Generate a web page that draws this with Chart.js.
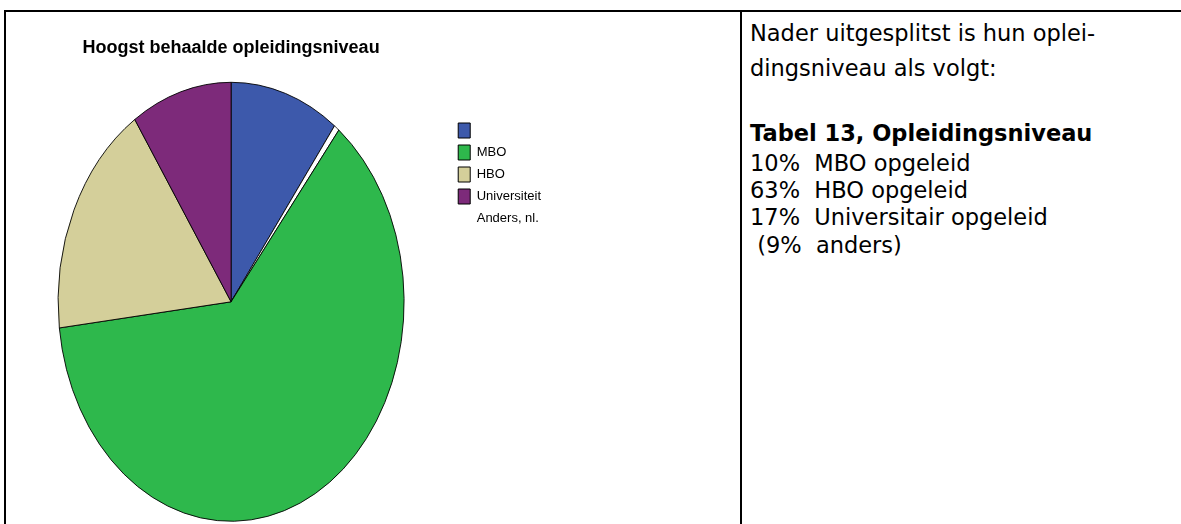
<!DOCTYPE html>
<html>
<head>
<meta charset="utf-8">
<script src="https://cdn.jsdelivr.net/npm/chart.js@4.4.1/dist/chart.umd.min.js"></script>
<style>
  html, body { margin: 0; padding: 0; background: #fff; }
  body { width: 1181px; height: 524px; position: relative; overflow: hidden; }
  #chartBox { position: absolute; left: 0; top: 0; width: 740px; height: 524px; }
  .rule { position: absolute; background: #000; }
  .line { position: absolute; left: 750px; white-space: pre; line-height: 28px;
          font-family: Tahoma, "DejaVu Sans", sans-serif; font-size: 22.5px; color: #000; }
  .bold { font-weight: bold; }
</style>
</head>
<body>
<div id="chartBox"><canvas id="pie" width="740" height="524"></canvas></div>

<div class="rule" style="left:4px;top:10px;width:1177px;height:2px"></div>
<div class="rule" style="left:4px;top:10px;width:2px;height:514px"></div>
<div class="rule" style="left:740px;top:10px;width:2px;height:514px"></div>

<div class="line" style="top:19px">Nader uitgesplitst is hun oplei-</div>
<div class="line" style="top:54px">dingsniveau als volgt:</div>
<div class="line bold" style="top:119px">Tabel 13, Opleidingsniveau</div>
<div class="line" style="top:149px">10%  MBO opgeleid</div>
<div class="line" style="top:176px">63%  HBO opgeleid</div>
<div class="line" style="top:203px">17%  Universitair opgeleid</div>
<div class="line" style="top:231px"> (9%  anders)</div>

<script>
// slices in drawing order (clockwise from 12 o'clock)
const categories = ["", "Anders, nl.", "MBO", "HBO", "Universiteit"];
const shares = [10.2, 0.5, 62.4, 17.5, 9.4];
const sliceColors = ["#3d59ab", "#ffffff", "#2eb84c", "#d4cf9a", "#7d2a7a"];
// order the legend lists them in
const legendOrder = ["", "MBO", "HBO", "Universiteit", "Anders, nl."];

const chartTitle = "Hoogst behaalde opleidingsniveau";

// pie is drawn as a circle of radius ry, then squashed sideways to rx
const rx = 173, ry = 219.5;

const squash = {
  id: "squash",
  beforeDatasetsDraw(chart) {
    const arc = chart.getDatasetMeta(0).data[0];
    const ctx = chart.ctx;
    ctx.save();
    ctx.translate(arc.x, arc.y);
    ctx.scale(rx / ry, 1);
    ctx.translate(-arc.x, -arc.y);
  },
  afterDatasetsDraw(chart) {
    chart.ctx.restore();
  }
};

const baseLabels = Chart.overrides.pie.plugins.legend.labels.generateLabels;

new Chart(document.getElementById("pie"), {
  type: "pie",
  data: {
    labels: categories,
    datasets: [{
      data: shares,
      backgroundColor: sliceColors,
      borderColor: "#000",
      borderWidth: 1
    }]
  },
  options: {
    responsive: false,
    animation: false,
    radius: ry,
    layout: { padding: { left: 11, right: 189, top: 0, bottom: 0 } },
    plugins: {
      tooltip: { enabled: false },
      title: {
        display: true,
        fullSize: false,
        text: chartTitle,
        color: "#000",
        font: { family: "'Liberation Sans', Arial, sans-serif", size: 18, weight: "bold" },
        padding: { top: 37, bottom: 21 }
      },
      legend: {
        position: "right",
        align: "start",
        title: { display: true, text: "", font: { size: 10 }, padding: { top: 104, bottom: 0 } },
        labels: {
          boxWidth: 12,
          boxHeight: 15,
          padding: 7,
          color: "#000",
          font: { family: "'Liberation Sans', Arial, sans-serif", size: 13 },
          generateLabels(chart) {
            return baseLabels(chart).map(item => {
              if (item.fillStyle === "#ffffff") {
                item.lineWidth = 0;
              }
              return item;
            });
          },
          sort: (a, b) => legendOrder.indexOf(a.text) - legendOrder.indexOf(b.text)
        }
      }
    }
  },
  plugins: [squash]
});
</script>
</body>
</html>
